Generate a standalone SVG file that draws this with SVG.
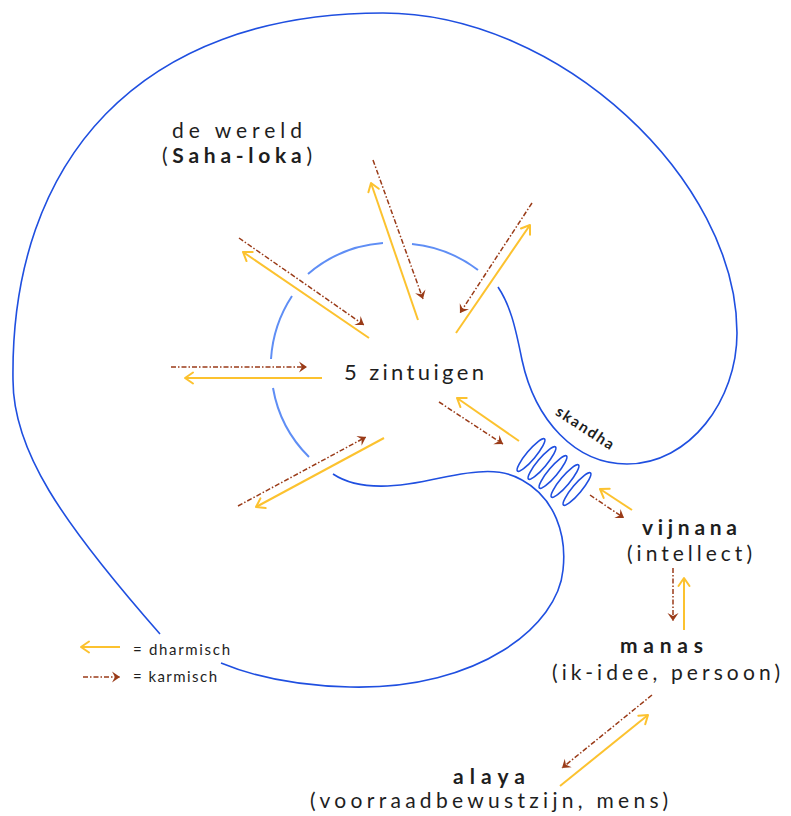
<svg xmlns="http://www.w3.org/2000/svg" width="791" height="816" viewBox="0 0 791 816">
<style>
.blue{fill:none;stroke:#1f4fe0;stroke-width:1.6}
.lblue{fill:none;stroke:#5f8ef5;stroke-width:2}
.dh{fill:none;stroke:#fcc22f;stroke-width:2;marker-end:url(#ya)}
.ka{fill:none;stroke:#9a3b18;stroke-width:1.5;stroke-dasharray:5 2 1.5 2;marker-end:url(#ba)}
.t{font-family:Lato,"Liberation Sans",sans-serif;fill:#1e1e1e;font-size:21px}
.b{font-weight:bold}
</style>
<defs>
<marker id="ya" viewBox="-11 -7 13 14" refX="0" refY="0" markerWidth="13" markerHeight="14" markerUnits="userSpaceOnUse" orient="auto"><path d="M-8,-5.5 L0,0 L-8,5.5" fill="none" stroke="#fcc22f" stroke-width="2" stroke-linecap="round" stroke-linejoin="round"/></marker>
<marker id="ba" viewBox="-10 -7 12 14" refX="0" refY="0" markerWidth="12" markerHeight="14" markerUnits="userSpaceOnUse" orient="auto"><path d="M-8,-5.5 L0,0 L-8,5.5 L-5,0 Z" fill="#9a3b18"/></marker>
</defs>
<rect width="791" height="816" fill="#fff"/>

<g id="wereld">
<path class="blue" d="M160,634 C60,520 13,450 13,380 C10,160 140,13 383,13 C560,13 737,180 737,333 C737,400 690,464 627,464 C575,464 535,420 522,360 C515,325 510,305 498,287"/>
<text class="t" x="172" y="138" textLength="130" lengthAdjust="spacing">de wereld</text>
<text class="t" x="162" y="163" textLength="150" lengthAdjust="spacing">(<tspan class="b">Saha-loka</tspan>)</text>
</g>

<g id="zintuigen">
<path class="lblue" d="M308,274 A130,130 0 0 1 383,243"/>
<path class="lblue" d="M412,244 A130,130 0 0 1 478,270"/>
<path class="lblue" d="M292,296 A130,130 0 0 0 271,359"/>
<path class="lblue" d="M273,388 A128,128 0 0 0 309,457"/>
<path class="blue" d="M333,474 C360,492 400,487 440,478 C478,470 502,468 522,480 C555,498 567,535 563,570 C558,625 480,690 350,687 C300,686 255,677 221,663"/>
<text class="t" x="344" y="380" textLength="140" lengthAdjust="spacing" style="font-size:22px">5 zintuigen</text>
</g>

<g id="skandha">
<ellipse class="blue" cx="531" cy="455" rx="4.5" ry="21" transform="rotate(40 531 455)"/>
<ellipse class="blue" cx="542" cy="463" rx="4.5" ry="21" transform="rotate(40 542 463)"/>
<ellipse class="blue" cx="553" cy="472" rx="4.5" ry="21" transform="rotate(40 553 472)"/>
<ellipse class="blue" cx="565" cy="481" rx="4.5" ry="21" transform="rotate(40 565 481)"/>
<ellipse class="blue" cx="577" cy="489" rx="4.5" ry="21" transform="rotate(40 577 489)"/>
<text class="t b" x="552" y="433" style="font-size:15px" textLength="66" lengthAdjust="spacing" transform="rotate(33 585 428)">skandha</text>
</g>

<g id="vijnana">
<text class="t b" x="642" y="535" textLength="95" lengthAdjust="spacing">vijnana</text>
<text class="t" x="627" y="561" textLength="125" lengthAdjust="spacing">(intellect)</text>
</g>

<g id="manas">
<text class="t b" x="620" y="653" textLength="83" lengthAdjust="spacing">manas</text>
<text class="t" x="552" y="680" textLength="228" lengthAdjust="spacing">(ik-idee, persoon)</text>
</g>

<g id="alaya">
<text class="t b" x="453" y="784" textLength="72" lengthAdjust="spacing">alaya</text>
<text class="t" x="310" y="808" textLength="358" lengthAdjust="spacing">(voorraadbewustzijn, mens)</text>
</g>

<g id="legend">
<line class="dh" x1="120" y1="647" x2="81" y2="647"/>
<line class="ka" x1="83" y1="677" x2="120" y2="677"/>
<text class="t" x="133" y="655" style="font-size:15px" textLength="97" lengthAdjust="spacing">= dharmisch</text>
<text class="t" x="133" y="682" style="font-size:15px" textLength="84" lengthAdjust="spacing">= karmisch</text>
</g>

<g id="connectors">
<line class="dh" x1="418" y1="320" x2="371" y2="183"/>
<line class="ka" x1="373" y1="160" x2="423" y2="299"/>
<line class="dh" x1="456" y1="333" x2="530" y2="225"/>
<line class="ka" x1="532" y1="203" x2="460" y2="313"/>
<line class="dh" x1="369" y1="338" x2="243" y2="252"/>
<line class="ka" x1="239" y1="238" x2="364" y2="325"/>
<line class="ka" x1="171" y1="367" x2="307" y2="367"/>
<line class="dh" x1="322" y1="378" x2="185" y2="378"/>
<line class="dh" x1="384" y1="438" x2="256" y2="507"/>
<line class="ka" x1="238" y1="506" x2="366" y2="437"/>
<line class="dh" x1="519" y1="441" x2="457" y2="398"/>
<line class="ka" x1="439" y1="402" x2="503" y2="444"/>
<line class="dh" x1="632" y1="510" x2="600" y2="489"/>
<line class="ka" x1="590" y1="495" x2="624" y2="518"/>
<line class="ka" x1="673" y1="568" x2="673" y2="621"/>
<line class="dh" x1="684" y1="630" x2="684" y2="578"/>
<line class="ka" x1="652" y1="695" x2="562" y2="768"/>
<line class="dh" x1="560" y1="786" x2="648" y2="715"/>
</g>
</svg>
